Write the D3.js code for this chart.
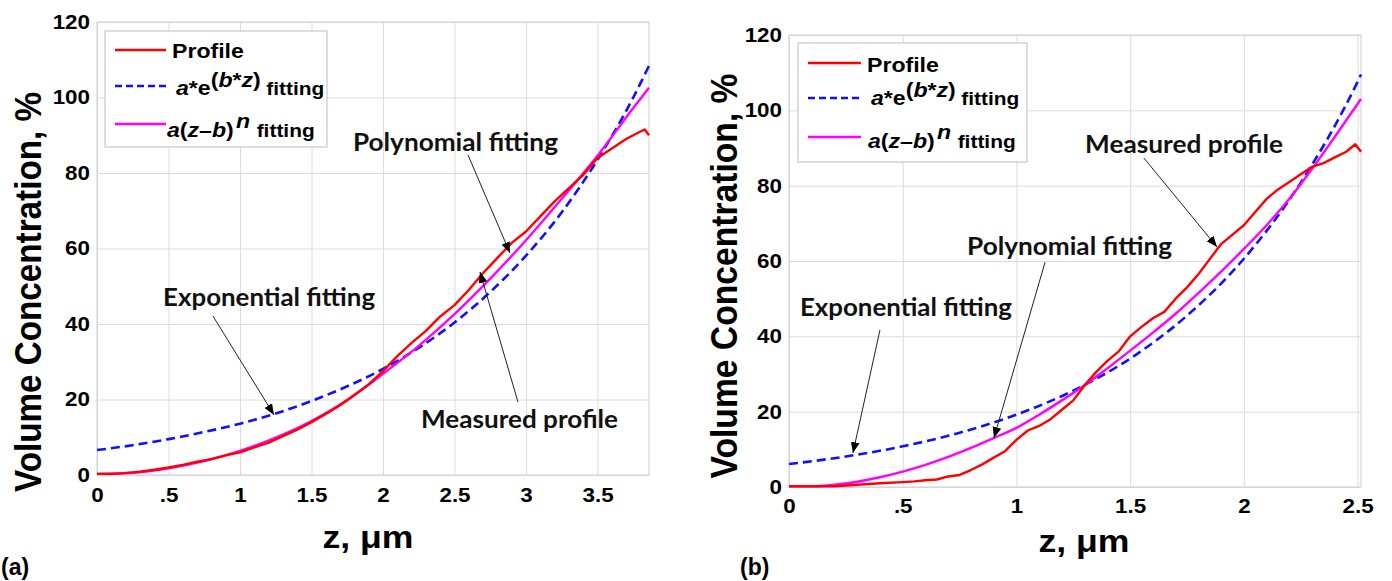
<!DOCTYPE html>
<html><head><meta charset="utf-8">
<script src="https://cdn.jsdelivr.net/npm/d3@7/dist/d3.min.js"></script>
<style>body{margin:0;background:#fff}svg{display:block}</style>
</head><body>
<svg id="chart" width="1392" height="581"></svg>
<script>
// ---------- DATA ----------
// Panel (a)
const zA_profile = [0,0.1,0.2,0.3,0.4,0.5,0.6,0.7,0.8,0.9,1.0,1.1,1.2,1.3,1.4,1.5,1.6,1.7,1.8,1.9,2.0,2.1,2.2,2.3,2.4,2.5,2.6,2.7,2.8,2.9,3.0,3.1,3.2,3.3,3.4,3.5,3.6,3.7,3.8,3.83,3.86];
const profileA   = [0.3,0.3,0.5,0.9,1.4,2.0,2.7,3.5,4.2,5.2,6.0,7.3,8.6,10.3,12.0,14.0,16.2,18.5,21.2,24.0,27.5,31.5,35.0,38.2,42.0,45.0,49.0,53.5,57.5,61.5,64.5,68.5,72.5,76.0,79.5,84.0,86.5,89.0,91.0,91.5,90.0];
const zA_fit     = [0,0.25,0.5,0.75,1.0,1.25,1.5,1.75,2.0,2.25,2.5,2.75,3.0,3.25,3.5,3.75,3.86];
const expFitA    = [6.6,7.9,9.5,11.4,13.6,16.3,19.6,23.5,28.1,33.7,40.4,48.5,58.1,69.6,83.5,100.0,108.4];
const powFitA    = [0.3,0.6,1.8,3.7,6.4,9.9,14.3,19.9,26.8,34.2,42.6,52.0,62.2,73.2,84.6,97.2,102.6];
const xTicksA    = [0,0.5,1,1.5,2,2.5,3,3.5];
const xTickLabelsA = ["0",".5","1","1.5","2","2.5","3","3.5"];

// Panel (b)
const zB_profile = [0,0.1,0.2,0.3,0.4,0.5,0.55,0.6,0.65,0.7,0.75,0.8,0.85,0.9,0.95,1.0,1.05,1.1,1.15,1.2,1.25,1.3,1.35,1.4,1.45,1.5,1.55,1.6,1.65,1.7,1.75,1.8,1.85,1.9,1.95,2.0,2.05,2.1,2.15,2.2,2.25,2.3,2.35,2.4,2.45,2.49,2.515];
const profileB   = [0.2,0.2,0.2,0.6,1.0,1.3,1.5,1.8,2.0,2.8,3.2,4.5,6.0,7.8,9.5,12.5,15.0,16.2,18.0,20.5,23.0,27.0,30.5,33.5,36.0,40.0,42.5,44.8,46.5,50.0,53.0,56.5,60.5,64.5,67.0,69.5,73.0,76.5,79.0,81.0,83.0,85.0,86.0,87.5,89.0,91.0,89.0];
const zB_exp     = [0,0.25,0.5,0.75,1.0,1.25,1.5,1.75,2.0,2.25,2.5,2.515];
const expFitB    = [6.1,8.1,10.8,14.4,19.2,25.6,34.1,45.5,60.6,80.8,107.6,109.5];
const zB_pow     = [0,0.1,0.2,0.3,0.4,0.5,0.6,0.7,0.8,0.9,1.0,1.1,1.2,1.3,1.4,1.5,1.6,1.7,1.8,1.9,2.0,2.1,2.2,2.3,2.4,2.515];
const powFitB    = [0.2,0.2,0.6,1.4,2.6,4.1,5.9,8.0,10.4,13.0,15.7,19.2,23.0,27.0,31.5,36.2,41.0,46.0,51.5,57.2,63.2,69.5,76.5,84.5,93.0,103.0];
const xTicksB    = [0,0.5,1,1.5,2,2.5];
const xTickLabelsB = ["0",".5","1","1.5","2","2.5"];

const yTicks = [0,20,40,60,80,100,120];

// annotations: [text, textZ, textV, arrowFromZ, arrowFromV, arrowToZ, arrowToV, textLength]
const annA = [
  ["Polynomial fitting", 1.79, 85.8, 2.594, 84.8, 2.888, 58.8, 205],
  ["Measured profile",   2.266, 12.5, 2.944, 19.3, 2.678, 53.8, 197],
  ["Exponential fitting",0.462, 44.8, 0.811, 42.1, 1.238, 15.9, 212]
];
const annB = [
  ["Measured profile",   1.302, 88.7, 1.561, 87.3, 1.882, 63.7, 198],
  ["Polynomial fitting", 0.783, 61.6, 1.126, 59.7, 0.901, 13.0, 205],
  ["Exponential fitting",0.048, 45.4, 0.400, 41.7, 0.281, 9.0, 212]
];

// ---------- DRAW ----------
const svg = d3.select("#chart");
const AX = "'Liberation Sans', Arial, sans-serif";
const ANN = "Lato, 'Open Sans', sans-serif";
const RED = "#ff0000", BLUE = "#1010ff", MAG = "#ff00ff";

svg.append("defs").append("marker")
  .attr("id","ah").attr("viewBox","0 0 10 10").attr("refX",10).attr("refY",5)
  .attr("markerWidth",11).attr("markerHeight",11).attr("markerUnits","userSpaceOnUse")
  .attr("orient","auto")
  .append("path").attr("d","M0,1 L10,5 L0,9 Z").attr("fill","#000");

function panel(c) {
  const g = svg.append("g");
  const x = d3.scaleLinear().domain([0, c.xmax]).range([c.left, c.right]);
  const y = d3.scaleLinear().domain([0, 120]).range([c.bottom, c.top]);
  const H = c.bottom - c.top, W = c.right - c.left;

  const xa = g.append("g").attr("transform", `translate(0,${c.bottom})`)
    .call(d3.axisBottom(x).tickValues(c.xTicks).tickSize(-H).tickPadding(c.xPad)
      .tickFormat((d,i) => c.xLabels[i]));
  const ya = g.append("g").attr("transform", `translate(${c.left},0)`)
    .call(d3.axisLeft(y).tickValues(yTicks).tickSize(-W).tickPadding(7));
  [xa, ya].forEach(a => {
    a.select(".domain").remove();
    a.selectAll(".tick line").attr("stroke", "#dcdcdc").attr("stroke-width", 1);
    a.selectAll(".tick text").attr("fill","#000").style("font-family", AX)
      .style("font-size","20px").style("font-weight","bold");
  });
  xa.selectAll(".tick text").attr("transform","scale(1.12,1)");
  ya.selectAll(".tick text").attr("transform","scale(1.12,1)").attr("x", -7/1.12);

  g.append("rect").attr("x", c.left).attr("y", c.top).attr("width", W).attr("height", H)
    .attr("fill","none").attr("stroke","#cfcfcf").attr("stroke-width",1);

  const line = d3.line().x(d => x(d[0])).y(d => y(d[1])).curve(d3.curveMonotoneX);
  g.append("path").datum(d3.zip(c.zExp, c.exp)).attr("d", line)
    .attr("fill","none").attr("stroke",BLUE).attr("stroke-width",2.6).attr("stroke-dasharray","9,5");
  g.append("path").datum(d3.zip(c.zPow, c.pow)).attr("d", line)
    .attr("fill","none").attr("stroke",MAG).attr("stroke-width",2.4);
  g.append("path").datum(d3.zip(c.zProf, c.prof)).attr("d", d3.line().x(d => x(d[0])).y(d => y(d[1])))
    .attr("fill","none").attr("stroke",RED).attr("stroke-width",2.4).attr("stroke-linejoin","round");

  c.ann.forEach(a => {
    g.append("text").attr("x", x(a[1])).attr("y", y(a[2]))
      .attr("textLength", a[7]).attr("lengthAdjust","spacingAndGlyphs")
      .style("font-family", ANN).style("font-weight","bold").style("font-size","25px")
      .attr("fill","#111").text(a[0]);
    g.append("line").attr("x1", x(a[3])).attr("y1", y(a[4])).attr("x2", x(a[5])).attr("y2", y(a[6]))
      .attr("stroke","#222").attr("stroke-width",1).attr("marker-end","url(#ah)");
  });

  const L = c.legend;
  g.append("rect").attr("x",L.x).attr("y",L.y).attr("width",L.w).attr("height",L.h)
    .attr("fill","#fff").attr("stroke","#c8c8c8").attr("stroke-width",1.2);
  const rows = [{col:RED, dash:null}, {col:BLUE, dash:"7,4"}, {col:MAG, dash:null}];
  rows.forEach((r,i) => {
    g.append("line").attr("x1",L.lx1).attr("x2",L.lx2).attr("y1",L.ly[i]).attr("y2",L.ly[i])
      .attr("stroke",r.col).attr("stroke-width",2.4).attr("stroke-dasharray",r.dash);
  });
  const lt = (i) => g.append("text")
    .attr("transform",`translate(${L.tx[i]},${L.tb[i]}) scale(1.1,1)`)
    .style("font-family",AX).style("font-weight","bold").style("font-size","21px").attr("fill","#000");
  lt(0).text("Profile");
  const t1 = lt(1);
  t1.append("tspan").style("font-style","italic").text("a");
  t1.append("tspan").text("*e");
  t1.append("tspan").attr("dy",-8).text("(");
  t1.append("tspan").style("font-style","italic").text("b");
  t1.append("tspan").text("*");
  t1.append("tspan").style("font-style","italic").text("z");
  t1.append("tspan").text(")");
  t1.append("tspan").attr("dy",8).attr("dx",5).style("font-size","19px").text("fitting");
  const t2 = lt(2);
  t2.append("tspan").style("font-style","italic").text("a");
  t2.append("tspan").text("(");
  t2.append("tspan").style("font-style","italic").text("z");
  t2.append("tspan").text("–");
  t2.append("tspan").style("font-style","italic").text("b");
  t2.append("tspan").text(")");
  t2.append("tspan").attr("dy",-9).attr("dx",2).style("font-style","italic").text("n");
  t2.append("tspan").attr("dy",9).attr("dx",6).style("font-size","19px").text("fitting");

  g.append("text").attr("transform",`translate(${c.yTitle[0]},${c.yTitle[1]}) rotate(-90)`)
    .attr("text-anchor","middle").attr("textLength",c.yTitle[2]).attr("lengthAdjust","spacingAndGlyphs")
    .style("font-family",AX).style("font-weight","bold").style("font-size","37px")
    .text("Volume Concentration, %");
  g.append("text").attr("transform",`translate(${c.xTitle[0]},${c.xTitle[1]}) scale(1.15,1)`)
    .attr("text-anchor","middle")
    .style("font-family",AX).style("font-weight","bold").style("font-size","31px")
    .text("z, μm");
  g.append("text").attr("x",c.tag[0]).attr("y",c.tag[1])
    .style("font-family",AX).style("font-weight","bold").style("font-size","23px")
    .text(c.tag[2]);
}

panel({
  left:97, right:649, top:22, bottom:475, xmax:3.86, xPad:13,
  xTicks:xTicksA, xLabels:xTickLabelsA,
  zProf:zA_profile, prof:profileA, zExp:zA_fit, exp:expFitA, zPow:zA_fit, pow:powFitA,
  ann:annA,
  legend:{x:105,y:31,w:222,h:116,lx1:115,lx2:166,ly:[50,86,124],tx:[172,176,167],tb:[58,95,137]},
  yTitle:[41,292,400], xTitle:[368,548], tag:[1,575,"(a)"]
});
panel({
  left:789, right:1361, top:35, bottom:487, xmax:2.515, xPad:12,
  xTicks:xTicksB, xLabels:xTickLabelsB,
  zProf:zB_profile, prof:profileB, zExp:zB_exp, exp:expFitB, zPow:zB_pow, pow:powFitB,
  ann:annB,
  legend:{x:798,y:43,w:229,h:119,lx1:808,lx2:861,ly:[63,98,137],tx:[867,871,868],tb:[72,105,148]},
  yTitle:[737,276,405], xTitle:[1084,552], tag:[740,575,"(b)"]
});
</script>
</body></html>
